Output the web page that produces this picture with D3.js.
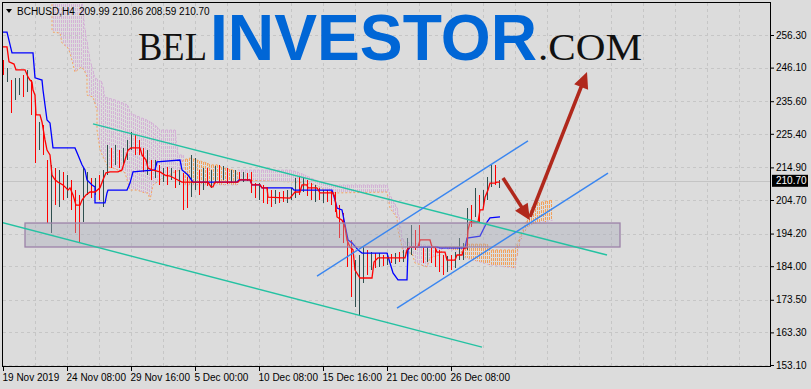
<!DOCTYPE html>
<html>
<head>
<meta charset="utf-8">
<script src="https://cdn.jsdelivr.net/npm/d3@7"></script>
<style>
  body { margin: 0; background: #dcdcdc; }
  svg { display: block; }
</style>
</head>
<body>
<svg id="chart" width="811" height="389"></svg>
<script>
// --- data -------------------------------------------------------------
var symbol = "BCHUSD,H4";
var lastOpen = 209.99, lastHigh = 210.86, lastLow = 208.59, lastClose = 210.70;

var priceTicks = [256.3, 246.1, 235.6, 225.4, 214.9, 204.7, 194.2, 184.0, 173.5, 163.3, 153.1];
var timeTickIdx = [0, 32, 64, 96, 128, 160, 192, 224];
var timeLabels = ["19 Nov 2019", "24 Nov 08:00", "29 Nov 16:00", "5 Dec 00:00",
                  "10 Dec 08:00", "15 Dec 16:00", "21 Dec 00:00", "26 Dec 08:00"];

// bars, one every second H4 bar index
var barHigh = [248.5,246.0,242.2,242.9,242.9,243.8,245.4,242.2,236.0,229.1,
  228.2,217.2,215.7,214.7,214.1,213.5,212.5,211.0,207.8,206.3,
  214.7,213.5,211.6,211.6,212.5,214.1,221.9,221.0,221.9,220.3,
  221.0,223.5,226.0,225.0,223.5,221.0,220.3,217.2,217.2,215.7,
  214.7,215.0,214.7,214.1,214.1,213.2,211.9,218.8,217.8,214.1,
  214.7,214.7,214.1,215.3,215.7,215.3,214.7,214.1,214.1,213.5,
  213.5,213.2,213.5,210.0,210.0,209.4,208.8,207.8,207.8,207.2,
  207.5,207.8,208.5,211.6,211.9,211.6,211.0,210.0,209.4,208.5,
  207.8,207.8,207.5,207.2,203.1,200.6,193.1,192.2,185.9,187.5,
  190.0,189.1,188.4,188.1,188.1,187.5,188.1,187.8,188.1,188.4,
  189.1,192.8,196.9,195.3,196.9,190.0,190.0,189.7,190.0,189.1,
  187.5,187.2,187.5,188.4,192.8,191.3,202.2,203.1,208.5,206.3,
  207.8,211.9,215.7,215.7,210.86];
var barLow = [243.8,241.6,231.9,236.0,237.5,236.9,238.5,231.3,216.3,220.3,
  218.8,197.5,194.4,203.1,202.5,204.7,205.3,201.6,194.4,191.3,
  197.8,206.3,205.3,206.3,204.7,202.5,212.5,214.7,215.7,214.7,
  215.7,217.2,220.3,218.8,218.8,213.5,212.5,211.0,211.6,209.4,
  210.3,209.4,211.0,208.5,209.4,201.6,202.2,205.6,207.8,206.3,
  207.8,209.1,208.5,210.0,210.3,211.0,209.7,210.0,210.3,211.0,
  210.3,210.6,206.9,205.3,204.7,203.8,203.5,202.5,203.5,203.8,
  204.1,203.8,204.7,205.3,206.3,207.2,206.0,204.7,204.1,204.7,
  203.8,204.1,203.1,201.0,192.8,191.3,183.8,174.4,171.2,168.7,
  178.8,181.3,182.8,183.4,183.8,184.1,184.4,185.0,184.7,185.3,
  185.3,186.9,187.5,189.1,190.0,185.0,185.3,185.0,183.8,182.2,
  181.3,182.2,182.8,183.4,185.9,185.9,189.1,196.3,199.4,197.8,
  202.5,204.7,208.8,209.4,208.59];
var barDir = [-1,1,-1,1,1,-1,1,-1,-1,1,
  -1,-1,1,-1,1,-1,1,-1,-1,-1,
  1,1,-1,1,-1,1,1,-1,1,-1,
  1,1,1,-1,-1,-1,1,-1,1,-1,
  1,-1,1,-1,1,-1,-1,1,1,-1,
  1,-1,1,1,-1,1,-1,1,1,-1,
  1,-1,-1,-1,1,-1,-1,-1,1,-1,
  -1,1,1,1,-1,1,-1,-1,1,-1,
  1,-1,-1,-1,-1,-1,-1,-1,1,1,
  1,-1,1,-1,1,-1,1,-1,1,-1,
  1,1,1,-1,-1,-1,1,-1,-1,-1,
  -1,1,-1,1,1,1,1,-1,1,-1,
  1,1,1,-1,1];

// Ichimoku lines (H4 bar index, price)
var tenkanIdx = [0,2,3,5.5,6.5,11,12.5,13.5,14.5,15,16,16.5,18.5,19.5,21,22,23.5,24.5,26,27.5,
  30,31.5,32.5,33.5,35,36.5,38.5,39.5,41.5,43.5,46,48.5,50,51.5,53.5,57.5,59.5,61,62.5,64,
  68.5,69.5,71.5,72.5,74.5,78.5,81,83.5,89.5,102.5,104,105,106,117.5,118.5,123.5,124.5,128.5,129.5,132,
  132.5,143.5,146,148.5,149.5,152,152.5,157,158.5,165,166,167,169.5,171,172,173.5,175,176,178.5,184.5,
  185.5,187.5,201,202,203.5,207.5,208.5,213.5,214.5,216,217,221,222,226,227,229.5,230.5,232,232.5,233.5,
  237.5,238.5,240,241,242.5,243.5,246,247,248.5];
var tenkanVal = [252.6,252.6,247.9,247.2,245.4,245.4,243.2,242.2,241.6,239.1,237.5,231.3,231.3,229.1,223.5,220.3,218.8,212.5,211.0,210.3,
  209.4,208.5,207.8,208.5,206.3,203.1,203.1,204.7,206.3,207.2,207.2,208.5,211.0,213.2,213.5,213.5,214.1,217.2,220.3,221.0,
  221.0,218.8,217.2,214.7,214.1,213.5,212.5,212.2,210.3,210.3,208.8,208.8,210.3,210.3,211.0,211.0,209.4,209.4,208.5,208.5,
  205.6,205.3,207.2,207.2,209.4,209.4,208.5,208.5,206.9,206.9,205.6,199.4,198.4,196.3,192.2,190.0,189.1,182.8,180.3,180.3,
  185.3,186.6,186.6,189.1,190.0,190.0,192.2,192.2,190.0,190.0,188.4,188.4,185.9,185.9,187.5,187.5,189.7,189.7,195.3,197.8,
  197.8,201.6,201.6,205.6,207.8,210.0,210.0,210.3,210.3];

var kijunIdx = [0,2,4.5,15,16,19.5,20,22,23.5,25,36,37.5,39.5,41,42,44.5,46,46,51,52,
  52.5,62,63.5,65,76,77,88.5,89.5,92.5,95,117,118,123.5,124.5,128.5,129.5,144.5,145.5,164.5,166,
  167,169.5,171,172.5,174.5,177.5,179.5,192,193.5,195,197.5,202,202.5,203.5,217,218.5,231,232,238.5,242,
  243.5,248.5];
var kijunVal = [257.2,257.2,250.7,250.7,242.9,242.2,239.1,229.7,228.8,221.0,221.0,218.8,215.7,214.1,211.0,209.4,208.8,203.8,203.8,206.9,
  207.8,207.8,210.0,213.5,214.1,216.6,217.2,214.1,212.5,210.3,210.3,211.0,211.0,209.4,209.4,208.5,208.5,207.8,207.8,204.7,
  202.2,201.6,196.9,192.2,191.3,189.1,188.1,188.1,185.0,181.9,179.7,179.7,189.1,190.0,190.0,189.7,189.7,192.8,193.4,197.8,
  199.1,199.4];

var spanAIdx = [24.5,24.5,25,28.5,29.5,32.5,33.5,36,38.5,39.5,41,42,42,45,47,47,48.5,50,52.5,55,
  59.5,61,62.5,63.5,67,71,72.5,73.5,75,77,78.5,85,88.5,90,93.5,97,102,103.5,107,110,
  115,117,117.5,133.5,147,156,161,166,192,193.5,197,197.5,199.5,200,204.5,206,212,213.5,218.5,220,
  230,231,242,243.5,256,257.5,259.5,262,264.5,267,275];
var spanAVal = [267.2,257.9,257.2,256.9,253.8,252.2,250.7,244.7,246.0,246.3,244.7,243.2,237.5,236.9,232.8,226.6,220.3,218.2,215.0,214.7,
  213.5,213.2,210.0,207.8,207.8,206.9,206.9,204.7,209.4,210.3,211.0,213.2,214.1,217.2,217.8,217.2,216.3,215.7,215.7,214.7,
  214.1,213.5,211.0,210.6,210.3,209.4,207.8,206.9,207.2,202.2,199.1,195.3,190.0,188.1,188.1,185.0,183.8,186.6,187.5,190.0,
  190.0,190.9,190.9,189.1,189.1,191.6,194.7,198.4,202.5,203.8,204.7];

var spanBIdx = [24.5,38.5,39.5,41,43.5,46,49.5,51,56,62.5,63.5,72,76,78.5,86,87.5,90,91,117,117.5,
  143.5,148.5,158.5,166,192,193.5,197,198.5,199.5,200.5,218.5,228.5,231,243.5,256,257.5,259.5,262,265,275];
var spanBVal = [279.8,279.8,267.2,257.9,248.5,242.9,241.6,236.9,236.0,234.4,231.9,229.7,228.2,226.6,226.6,218.8,218.8,209.4,209.4,214.1,
  214.1,213.2,210.3,209.4,209.4,206.3,202.2,197.8,193.1,191.6,190.0,188.4,186.6,184.4,183.4,189.1,193.8,196.0,197.3,198.4];

// drawn objects
var zoneIdx = [11, 308.5], zoneVal = [197.5, 190.0];
var tealLines = [[45, 228.5, 302, 187.5], [-1.5, 197.8, 239.5, 158.7]];
var channelLines = [[157, 180.9, 262.5, 223.2], [197, 170.9, 302.5, 213.1]];
var arrows = [[250, 211.6, 263.5, 198.4], [263.5, 199.4, 292, 244.7]];

// --- chart ------------------------------------------------------------
var svg = d3.select("#chart");
var x = d3.scaleLinear().domain([0, 384]).range([3, 771]);
var y = d3.scaleLinear().domain([153.1, 256.3]).range([365, 35]);
var px = function(v) { return Math.round(v) + 0.5; };

svg.append("rect").attr("width", 811).attr("height", 389).attr("fill", "#dcdcdc");

svg.append("defs").append("clipPath").attr("id", "plotclip")
  .append("rect").attr("x", 3).attr("y", 3).attr("width", 767).attr("height", 363);

// grid
var grid = svg.append("g").attr("stroke", "#c6c6c6").attr("stroke-dasharray", "3,3")
  .attr("shape-rendering", "crispEdges");
grid.selectAll(".h").data(priceTicks).enter().append("line")
  .attr("x1", 3).attr("x2", 770)
  .attr("y1", function(d) { return px(y(d)); })
  .attr("y2", function(d) { return px(y(d)); });
grid.selectAll(".v").data(d3.range(16, 384, 16)).enter().append("line")
  .attr("y1", 3).attr("y2", 366)
  .attr("x1", function(d) { return px(x(d)); })
  .attr("x2", function(d) { return px(x(d)); });

var plot = svg.append("g").attr("clip-path", "url(#plotclip)");

function valueAt(idx, val, t) {
  for (var j = 1; j < idx.length; j++) {
    if (idx[j] > idx[j - 1] && t >= idx[j - 1] && t <= idx[j]) {
      return val[j - 1] + (val[j] - val[j - 1]) * (t - idx[j - 1]) / (idx[j] - idx[j - 1]);
    }
  }
  return null;
}

// cloud hatch
var cloud = d3.range(25, 275, 1).map(function(i) {
  return { i: i, a: valueAt(spanAIdx, spanAVal, i), b: valueAt(spanBIdx, spanBVal, i) };
});
plot.append("g").attr("stroke-width", 1).attr("stroke-dasharray", "3,1")
  .attr("shape-rendering", "crispEdges")
  .selectAll("line").data(cloud).enter().append("line")
  .attr("x1", function(d) { return px(x(d.i)); })
  .attr("x2", function(d) { return px(x(d.i)); })
  .attr("y1", function(d) { return y(Math.max(d.a, d.b)); })
  .attr("y2", function(d) { return y(Math.min(d.a, d.b)); })
  .attr("stroke", function(d) { return d.a >= d.b ? "#f2a05a" : "#d4b2d6"; });

var line = d3.line()
  .x(function(d) { return x(d[0]); })
  .y(function(d) { return y(d[1]); });

plot.append("path").datum(d3.zip(spanBIdx, spanBVal))
  .attr("d", line).attr("fill", "none").attr("stroke", "#d4b2d6")
  .attr("stroke-width", 1).attr("stroke-dasharray", "2,2");
plot.append("path").datum(d3.zip(spanAIdx, spanAVal))
  .attr("d", line).attr("fill", "none").attr("stroke", "#f4a460")
  .attr("stroke-width", 1).attr("stroke-dasharray", "2,2");

// bid line
plot.append("line").attr("x1", 3).attr("x2", 770)
  .attr("y1", px(y(lastClose))).attr("y2", px(y(lastClose)))
  .attr("stroke", "#c4c4c4").attr("shape-rendering", "crispEdges");

// bars
var bars = barHigh.map(function(h, k) {
  return { i: k * 2, hi: h, lo: barLow[k], dir: barDir[k] };
});
plot.append("g").attr("shape-rendering", "crispEdges")
  .selectAll("line").data(bars).enter().append("line")
  .attr("x1", function(d) { return px(x(d.i)); })
  .attr("x2", function(d) { return px(x(d.i)); })
  .attr("y1", function(d) { return y(d.hi); })
  .attr("y2", function(d) { return y(d.lo); })
  .attr("stroke-width", 1.2)
  .attr("stroke", function(d) { return d.dir > 0 ? "#2f4f4f" : "#ff0000"; });

plot.append("path").datum(d3.zip(kijunIdx, kijunVal))
  .attr("d", line).attr("fill", "none").attr("stroke", "#0000ff").attr("stroke-width", 1.3);
plot.append("path").datum(d3.zip(tenkanIdx, tenkanVal))
  .attr("d", line).attr("fill", "none").attr("stroke", "#ff0000").attr("stroke-width", 1.3);

// support zone
plot.append("rect")
  .attr("x", x(zoneIdx[0])).attr("width", x(zoneIdx[1]) - x(zoneIdx[0]))
  .attr("y", y(zoneVal[0])).attr("height", y(zoneVal[1]) - y(zoneVal[0]))
  .attr("fill", "#a8abb8").attr("fill-opacity", 0.4)
  .attr("stroke", "#9c82a8").attr("stroke-width", 1.3);

plot.selectAll(".teal").data(tealLines).enter().append("line")
  .attr("x1", function(d) { return x(d[0]); }).attr("y1", function(d) { return y(d[1]); })
  .attr("x2", function(d) { return x(d[2]); }).attr("y2", function(d) { return y(d[3]); })
  .attr("stroke", "#24c2a2").attr("stroke-width", 1.4);

plot.selectAll(".chan").data(channelLines).enter().append("line")
  .attr("x1", function(d) { return x(d[0]); }).attr("y1", function(d) { return y(d[1]); })
  .attr("x2", function(d) { return x(d[2]); }).attr("y2", function(d) { return y(d[3]); })
  .attr("stroke", "#3a86f0").attr("stroke-width", 1.4);

// arrows
arrows.forEach(function(a) {
  var x0 = x(a[0]), y0 = y(a[1]), x1 = x(a[2]), y1 = y(a[3]);
  var len = Math.hypot(x1 - x0, y1 - y0), ux = (x1 - x0) / len, uy = (y1 - y0) / len;
  var hl = 16, hw = 7.5;
  var bx = x1 - ux * hl, by = y1 - uy * hl;
  plot.append("line").attr("x1", x0).attr("y1", y0).attr("x2", bx + ux * 2).attr("y2", by + uy * 2)
    .attr("stroke", "#b0281c").attr("stroke-width", 3.6);
  plot.append("polygon")
    .attr("points", [[x1, y1], [bx - uy * hw, by + ux * hw], [bx + uy * hw, by - ux * hw]].join(" "))
    .attr("fill", "#b0281c");
});

// logo
var logo = svg.append("g");
logo.append("text").attr("x", 138).attr("y", 60).text("BEL")
  .attr("font-family", "Liberation Serif").attr("font-size", 41).attr("fill", "#111")
  .attr("textLength", 69).attr("lengthAdjust", "spacingAndGlyphs");
logo.append("text").attr("x", 210).attr("y", 60).text("INVESTOR")
  .attr("font-family", "Liberation Sans").attr("font-weight", "bold").attr("font-size", 64)
  .attr("fill", "#0066d6").attr("textLength", 327).attr("lengthAdjust", "spacingAndGlyphs");
logo.append("text").attr("x", 538).attr("y", 60).text(".COM")
  .attr("font-family", "Liberation Serif").attr("font-size", 38).attr("fill", "#111")
  .attr("textLength", 104).attr("lengthAdjust", "spacingAndGlyphs");

// frame
svg.append("rect").attr("x", 2.5).attr("y", 2.5).attr("width", 768).attr("height", 364)
  .attr("fill", "none").attr("stroke", "#000").attr("shape-rendering", "crispEdges");

// axes
var yAxis = d3.axisRight(y).tickValues(priceTicks).tickSize(4).tickFormat(d3.format(".2f"));
svg.append("g").attr("transform", "translate(770,0)").call(yAxis)
  .call(function(g) { g.select(".domain").remove(); })
  .call(function(g) {
    g.selectAll("text").attr("x", 6).attr("font-family", "Liberation Sans")
      .attr("font-size", 10).attr("fill", "#000");
  });

var xAxis = d3.axisBottom(x).tickValues(timeTickIdx).tickSize(5)
  .tickFormat(function(d, i) { return timeLabels[i]; });
svg.append("g").attr("transform", "translate(0,366)").call(xAxis)
  .call(function(g) { g.select(".domain").remove(); })
  .call(function(g) {
    g.selectAll("text").attr("text-anchor", "start").attr("x", -1)
      .attr("font-family", "Liberation Sans").attr("font-size", 10).attr("fill", "#000");
  });

// last price label
svg.append("rect").attr("x", 772).attr("y", y(lastClose) - 6).attr("width", 36).attr("height", 12)
  .attr("fill", "#000");
svg.append("text").attr("x", 776).attr("y", y(lastClose)).attr("dy", "0.35em")
  .attr("font-family", "Liberation Sans").attr("font-size", 10).attr("fill", "#fff")
  .text(d3.format(".2f")(lastClose));

// header
svg.append("path").attr("d", "M6,9L12,9L9,13Z").attr("fill", "#000");
var header = svg.append("text").attr("y", 15)
  .attr("font-family", "Liberation Sans").attr("font-size", 10).attr("fill", "#000");
header.append("tspan").attr("x", 17).text(symbol);
header.append("tspan").attr("x", 79)
  .text([lastOpen, lastHigh, lastLow, lastClose].map(d3.format(".2f")).join(" "));
</script>
</body>
</html>
